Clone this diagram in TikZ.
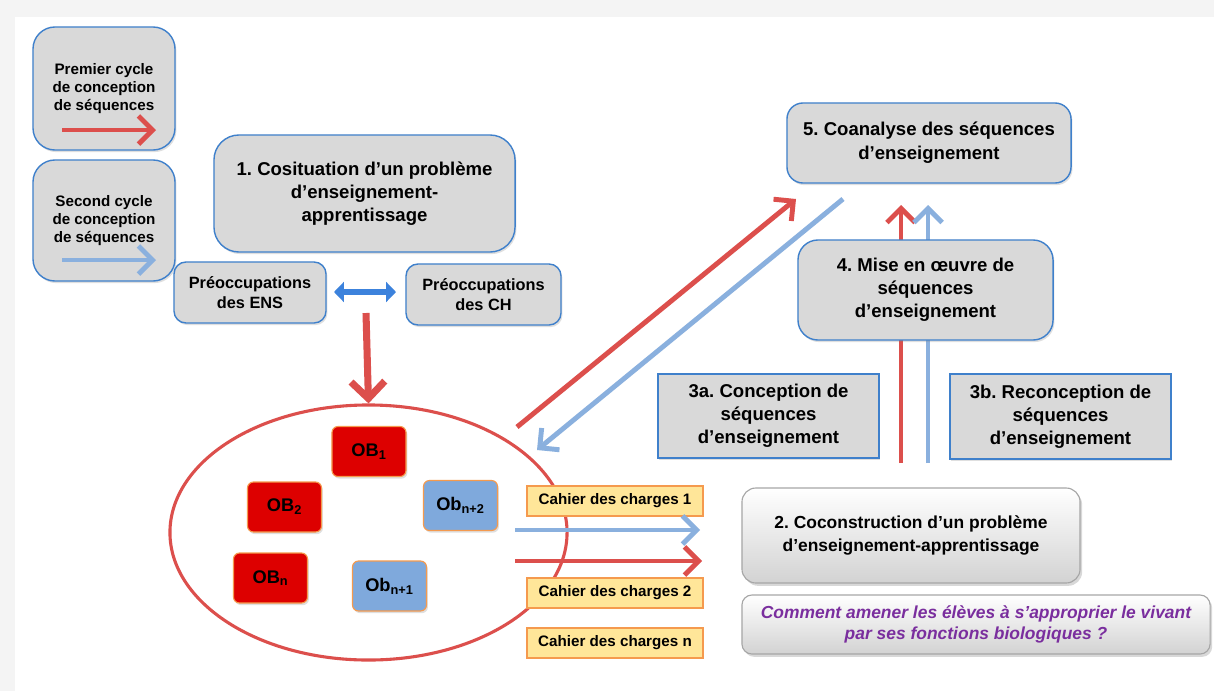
\documentclass[tikz,border=0pt]{standalone}
\usepackage{fontspec}
\setmainfont{Liberation Sans}
\usetikzlibrary{arrows.meta,shadows,shapes.geometric}
\frenchspacing

\definecolor{boxgray}{HTML}{D9D9D9}
\definecolor{boxblue}{HTML}{3F80CB}
\definecolor{arrred}{HTML}{DC4F4C}
\definecolor{arrblue}{HTML}{8AB0DE}
\definecolor{dblblue}{HTML}{3C82DC}
\definecolor{obred}{HTML}{DD0000}
\definecolor{obblue}{HTML}{7FA9DC}
\definecolor{oborange}{HTML}{F59A4E}
\definecolor{cahierfill}{HTML}{FFE699}
\definecolor{qpurple}{HTML}{7A2E9E}

\begin{document}
\begin{tikzpicture}[x=0.025cm, y=-0.025cm,
    graybox/.style={draw=boxblue, line width=1pt, fill=boxgray, align=center,
        font=\bfseries\fontsize{13.2}{16.3}\selectfont,
        drop shadow={opacity=0.25, shadow xshift=1pt, shadow yshift=-1.5pt}},
    legendbox/.style={graybox, rounded corners=0.55cm, minimum width=3.55cm,
        font=\bfseries\fontsize{10.8}{12.8}\selectfont},
    precbox/.style={graybox, rounded corners=0.3cm, minimum height=1.525cm,
        font=\bfseries\fontsize{11.6}{14.5}\selectfont},
    obbox/.style={draw=oborange, line width=0.8pt, rounded corners=0.15cm,
        minimum width=1.85cm, minimum height=1.25cm,
        font=\bfseries\fontsize{13}{14}\selectfont,
        drop shadow={opacity=0.25, shadow xshift=1pt, shadow yshift=-1.5pt}},
    cahierbox/.style={draw=oborange, line width=0.8pt, fill=cahierfill,
        minimum width=4.4cm, minimum height=0.75cm,
        font=\bfseries\fontsize{10.8}{11}\selectfont,
        drop shadow={opacity=0.2, shadow xshift=1pt, shadow yshift=-1pt}},
    shadebox/.style={draw=gray!70, line width=0.8pt, rounded corners=0.35cm,
        top color=white, bottom color=gray!35, align=center,
        drop shadow={opacity=0.3, shadow xshift=1.5pt, shadow yshift=-2pt}},
    redarr/.style={draw=arrred, line width=3.5pt, -{Straight Barb[length=10pt,width=20pt]}},
    bluearr/.style={draw=arrblue, line width=3.5pt, -{Straight Barb[length=10pt,width=20pt]}}]

% background
\fill[gray!9] (0,0) rectangle (1214,691);
\fill[white] (15,17) rectangle (1214,691);

% legend
\node[legendbox, minimum height=3.075cm] (prem) at (104,88.5) {Premier cycle\\de conception\\de séquences};
\node[legendbox, minimum height=3.025cm] (sec) at (104,220.5) {Second cycle\\de conception\\de séquences};
\coordinate (pr0) at (62,130);
\coordinate (pr1) at (156,130);
\coordinate (se0) at (62,260);
\coordinate (se1) at (156,260);
\draw[redarr] (pr0) -- (pr1);
\draw[bluearr] (se0) -- (se1);

% step 1
\node[graybox, rounded corners=0.625cm, minimum width=7.525cm, minimum height=2.925cm] (cosit) at (364.5,193.5)
    {1. Cosituation d’un problème\\d’enseignement-\\apprentissage};
\node[precbox, minimum width=3.8cm] (ens) at (250,292.5) {Préoccupations\\des ENS};
\node[precbox, minimum width=3.875cm] (ch) at (483.5,294.5) {Préoccupations\\des CH};
\coordinate (dbl0) at (334,292);
\coordinate (dbl1) at (396,292);
\draw[draw=dblblue, line width=4.5pt, {Triangle[length=7pt,width=14pt]}-{Triangle[length=7pt,width=14pt]}] (dbl0) -- (dbl1);

% set of objects
\node[draw=arrred, line width=2.2pt, ellipse, minimum width=9.925cm, minimum height=6.375cm, inner sep=0pt] (obset) at (368.5,532.5) {};
\coordinate (dn) at (366,313);
\draw[draw=arrred, line width=5pt, -{Straight Barb[length=12pt,width=24pt]}] (dn) -- (obset.north);

\node[obbox, fill=obred] (ob1) at (369,451.5) {OB\textsubscript{1}};
\node[obbox, fill=obred] (ob2) at (284.5,507) {OB\textsubscript{2}};
\node[obbox, fill=obred] (obn) at (270.5,578) {OB\textsubscript{n}};
\node[obbox, fill=obblue] (obn2) at (460.5,505.5) {Ob\textsubscript{n+2}};
\node[obbox, fill=obblue] (obn1) at (389.5,586) {Ob\textsubscript{n+1}};

\node[cahierbox] (cdc1) at (615,501) {Cahier des charges 1};
\node[cahierbox] (cdc2) at (615,593) {Cahier des charges 2};
\node[cahierbox] (cdcn) at (615,643) {Cahier des charges n};

% step 2
\node[shadebox, minimum width=8.45cm, minimum height=2.375cm, font=\bfseries\fontsize{12.4}{16.5}\selectfont] (cocons) at (911,535.5)
    {2. Coconstruction d’un problème\\d’enseignement-apprentissage};
\node[shadebox, rounded corners=0.25cm, minimum width=11.7cm, minimum height=1.475cm, text=qpurple,
    font=\bfseries\itshape\fontsize{12.4}{14.5}\selectfont] (quest) at (976,624.5)
    {Comment amener les élèves à s’approprier le vivant\\par ses fonctions biologiques ?};
\coordinate (h0) at (515,530);
\coordinate (h1) at (700,530);
\coordinate (h2) at (515,561);
\coordinate (h3) at (702,561);
\draw[bluearr] (h0) -- (h1);
\draw[redarr] (h2) -- (h3);

% steps 3 to 5
\node[graybox, rounded corners=0.4cm, minimum width=7.1cm, minimum height=2cm, font=\bfseries\fontsize{13.2}{17}\selectfont] (coana) at (929,143)
    {5. Coanalyse des séquences\\d’enseignement};
\coordinate (v0) at (901,463);
\coordinate (v1) at (901,205);
\coordinate (v2) at (928,463);
\coordinate (v3) at (928,205);
\draw[redarr] (v0) -- (v1);
\draw[bluearr] (v2) -- (v3);
\node[graybox, rounded corners=0.5cm, minimum width=6.375cm, minimum height=2.5cm] (miseo) at (925.5,290)
    {4. Mise en œuvre de\\séquences\\d’enseignement};
\node[graybox, minimum width=5.525cm, minimum height=2.1cm] (conc) at (768.5,416)
    {3a. Conception de\\séquences\\d’enseignement};
\node[graybox, minimum width=5.525cm, minimum height=2.125cm] (recon) at (1060.5,416.5)
    {3b. Reconception de\\séquences\\d’enseignement};

\coordinate (d0) at (517,427);
\coordinate (d1) at (796,199);
\coordinate (d2) at (843,199);
\coordinate (d3) at (537,450);
\draw[redarr] (d0) -- (d1);
\draw[bluearr] (d2) -- (d3);

\end{tikzpicture}
\end{document}
